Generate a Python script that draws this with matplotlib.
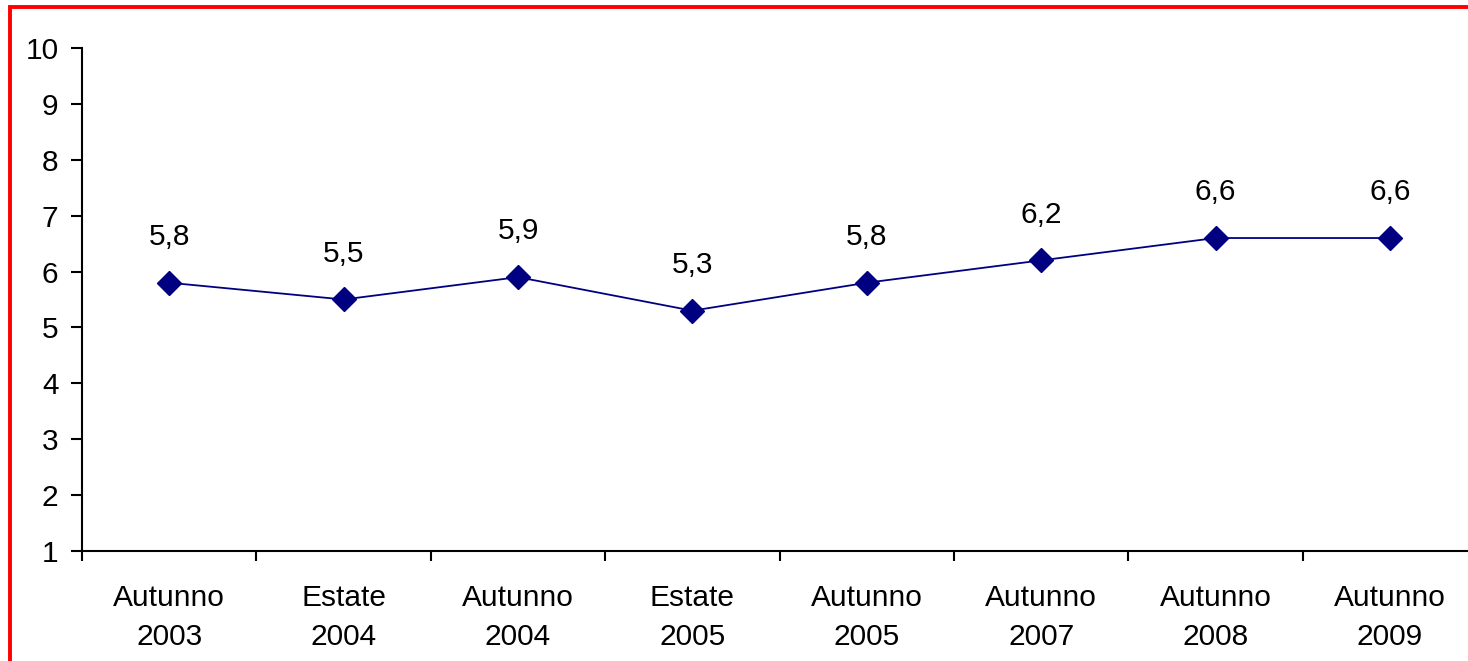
import matplotlib.pyplot as plt
from matplotlib.patches import Rectangle

# survey rounds and the index value measured in each
periods = ['Autunno\n2003', 'Estate\n2004', 'Autunno\n2004', 'Estate\n2005',
           'Autunno\n2005', 'Autunno\n2007', 'Autunno\n2008', 'Autunno\n2009']
values = [5.8, 5.5, 5.9, 5.3, 5.8, 6.2, 6.6, 6.6]
y_ticks = list(range(1, 11))

plt.rcParams['font.family'] = ['Liberation Sans', 'DejaVu Sans']

fig = plt.figure(figsize=(14.68, 6.61), dpi=100)
ax = fig.add_axes([0.0559, 0.1664, 0.9503, 0.761])

x = [i + 0.5 for i in range(len(values))]
ax.plot(x, values, color='#000080', linewidth=1.3, marker='D',
        markersize=12.5, markerfacecolor='#000080', markeredgecolor='#000080')

for xi, v in zip(x, values):
    ax.annotate(f'{v:.1f}'.replace('.', ','), (xi, v), xytext=(0, 33),
                textcoords='offset points', ha='center', va='center', fontsize=21.5)

ax.set_xlim(0, len(values))
ax.set_ylim(1, 10)
ax.set_yticks(y_ticks)
ax.set_yticklabels([str(t) for t in y_ticks])

# category boundaries get the tick marks, names sit between them
ax.set_xticks(range(len(values) + 1))
ax.set_xticklabels([])
ax.set_xticks(x, minor=True)
ax.set_xticklabels(periods, minor=True, linespacing=1.5)
ax.tick_params(axis='x', which='minor', length=0, pad=24, labelsize=21.5)
ax.tick_params(axis='x', which='major', length=7, width=1.5, direction='out')
ax.tick_params(axis='y', length=8, width=1.5, direction='out', labelsize=21.5, pad=9)

for side in ['top', 'right']:
    ax.spines[side].set_visible(False)
for side in ['left', 'bottom']:
    ax.spines[side].set_linewidth(1.5)

# red frame around the chart area
fig.patches.append(Rectangle((0.0068, -0.5), 1.5, 1.5 - 0.0113, transform=fig.transFigure,
                             fill=False, edgecolor='#ff0000', linewidth=2.8, clip_on=False))

fig.savefig('out.png', dpi=100)
